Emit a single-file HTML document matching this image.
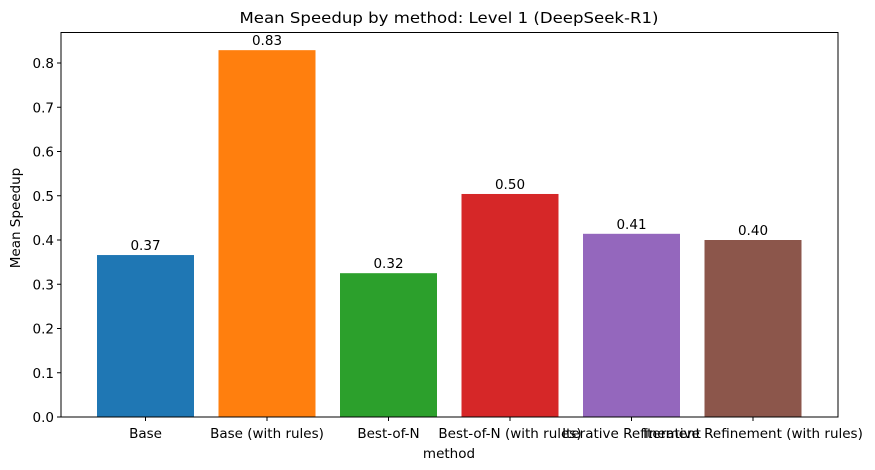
<!DOCTYPE html>
<html><head><meta charset="utf-8"><style>
html,body{margin:0;padding:0;background:#fff;}
svg{display:block;font-family:"DejaVu Sans","Liberation Sans",sans-serif;}
</style></head><body>
<svg id="chart" width="875" height="470">
<text x="449" y="23" text-anchor="middle" font-size="15.5" textLength="419" lengthAdjust="spacingAndGlyphs" fill="#000">Mean Speedup by method: Level 1 (DeepSeek-R1)</text>
<text x="449" y="458" text-anchor="middle" font-size="13.5" fill="#000">method</text>
<text transform="translate(20,218) rotate(-90)" text-anchor="middle" font-size="13.5" fill="#000">Mean Speedup</text>
<g id="bars"></g>
<g id="yticks"></g>
<g id="xticks"></g>
<rect x="61" y="32.5" width="777" height="384.5" fill="none" stroke="#000" stroke-width="1"/>
</svg>
<script>
const categories = ["Base","Base (with rules)","Best-of-N","Best-of-N (with rules)","Iterative Refinement","Iterative Refinement (with rules)"];
const values = [0.366,0.829,0.325,0.504,0.414,0.400];
const valueLabels = ["0.37","0.83","0.32","0.50","0.41","0.40"];
const yTicks = [0,0.1,0.2,0.3,0.4,0.5,0.6,0.7,0.8];
const colors = ["#1f77b4","#ff7f0e","#2ca02c","#d62728","#9467bd","#8c564b"];
const NS="http://www.w3.org/2000/svg";
const L=61,R=838,B=417;
const FS='13.5';
function y(v){return B-v*442.5;}
function x(i){return 145.5+121.5*i;}
const bw=97;
const bars=document.getElementById('bars');
const xt=document.getElementById('xticks');
const yt=document.getElementById('yticks');
categories.forEach((c,i)=>{
  const r=document.createElementNS(NS,'rect');
  r.setAttribute('x',x(i)-bw/2);r.setAttribute('y',y(values[i]));
  r.setAttribute('width',bw);r.setAttribute('height',B-y(values[i]));
  r.setAttribute('fill',colors[i]);
  
  
  bars.appendChild(r);
  const t=document.createElementNS(NS,'text');
  t.setAttribute('x',x(i));t.setAttribute('y',y(values[i])-5);
  t.setAttribute('text-anchor','middle');t.setAttribute('font-size',FS);
  t.textContent=valueLabels[i];
  
  
  bars.appendChild(t);
  const tk=document.createElementNS(NS,'line');
  tk.setAttribute('x1',x(i));tk.setAttribute('x2',x(i));tk.setAttribute('y1',B);tk.setAttribute('y2',B+4);
  tk.setAttribute('stroke','#000');
  
  
  xt.appendChild(tk);
  const lb=document.createElementNS(NS,'text');
  lb.setAttribute('x',x(i));lb.setAttribute('y',B+21);
  lb.setAttribute('text-anchor','middle');lb.setAttribute('font-size',FS);
  lb.textContent=c;
  
  
  xt.appendChild(lb);
});
yTicks.forEach(v=>{
  const tk=document.createElementNS(NS,'line');
  tk.setAttribute('x1',L-4);tk.setAttribute('x2',L);tk.setAttribute('y1',y(v));tk.setAttribute('y2',y(v));
  tk.setAttribute('stroke','#000');
  
  
  yt.appendChild(tk);
  const lb=document.createElementNS(NS,'text');
  lb.setAttribute('x',L-7);lb.setAttribute('y',y(v)+5);
  lb.setAttribute('text-anchor','end');lb.setAttribute('font-size',FS);
  lb.textContent=v.toFixed(1);
  
  
  yt.appendChild(lb);
});
</script>
</body></html>
